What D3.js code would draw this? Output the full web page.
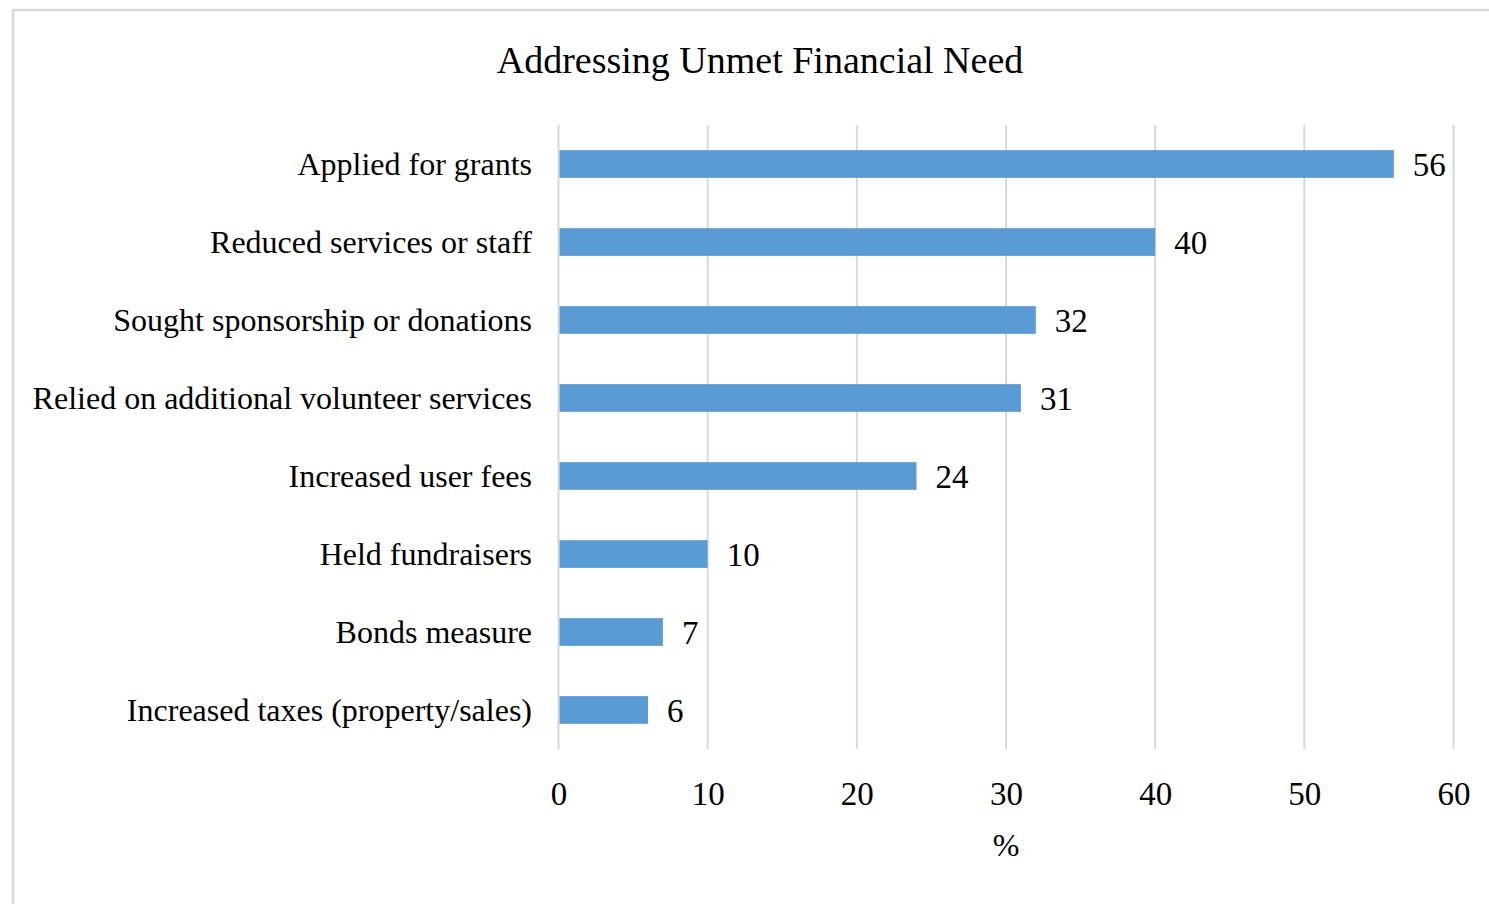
<!DOCTYPE html>
<html>
<head>
<meta charset="utf-8">
<script src="https://cdn.jsdelivr.net/npm/d3@7"></script>
<style>
  html, body { margin: 0; padding: 0; background: #fff; }
  svg { display: block; }
  text { font-family: "Liberation Serif", "Times New Roman", serif; fill: #000; }
</style>
</head>
<body>
<svg id="chart" width="1489" height="904"></svg>
<script>
// Survey responses: ways agencies addressed unmet financial need (% of respondents)
const categories = [
  "Applied for grants",
  "Reduced services or staff",
  "Sought sponsorship or donations",
  "Relied on additional volunteer services",
  "Increased user fees",
  "Held fundraisers",
  "Bonds measure",
  "Increased taxes (property/sales)"
];
const values = [56, 40, 32, 31, 24, 10, 7, 6];
const xTicks = [0, 10, 20, 30, 40, 50, 60];
const titleText = "Addressing Unmet Financial Need";
const xAxisTitle = "%";

const svg = d3.select("#chart");

// outer chart frame
svg.append("rect")
  .attr("x", 13).attr("y", 10)
  .attr("width", 1500).attr("height", 920)
  .attr("fill", "#fff")
  .attr("stroke", "#d9d9d9")
  .attr("stroke-width", 2.5);

const plot = { left: 558.5, right: 1453.5, top: 125, bottom: 749 };

const x = d3.scaleLinear().domain([0, 60]).range([plot.left, plot.right]);
const y = d3.scaleBand()
  .domain(categories)
  .range([plot.top, plot.bottom])
  .paddingInner(0.645)
  .paddingOuter(0.3225);

// title
svg.append("text")
  .attr("x", 760).attr("y", 73)
  .attr("text-anchor", "middle")
  .style("font-size", "38px")
  .text(titleText);

// vertical gridlines
svg.append("g")
  .selectAll("line")
  .data(xTicks)
  .join("line")
  .attr("x1", d => x(d)).attr("x2", d => x(d))
  .attr("y1", plot.top).attr("y2", plot.bottom)
  .attr("stroke", "#d9d9d9")
  .attr("stroke-width", 2);

// bars
svg.append("g")
  .selectAll("rect")
  .data(values)
  .join("rect")
  .attr("x", x(0) + 1)
  .attr("y", (d, i) => y(categories[i]))
  .attr("width", d => x(d) - x(0) - 1)
  .attr("height", y.bandwidth())
  .attr("fill", "#5b9bd5");

// value labels
svg.append("g")
  .selectAll("text")
  .data(values)
  .join("text")
  .attr("x", d => x(d) + 19)
  .attr("y", (d, i) => y(categories[i]) + y.bandwidth() / 2 + 12)
  .style("font-size", "33px")
  .text(d => d);

// category axis labels
const yAxis = d3.axisLeft(y).tickSize(0).tickPadding(0);
const gy = svg.append("g")
  .attr("transform", `translate(${532},0)`)
  .call(yAxis);
gy.select(".domain").remove();
gy.selectAll(".tick text")
  .attr("x", 0)
  .attr("dy", null)
  .attr("y", 10.5)
  .attr("fill", "#000")
  .style("font-family", "'Liberation Serif', 'Times New Roman', serif")
  .style("font-size", "32px");

// x axis tick labels
const xAxis = d3.axisBottom(x).tickValues(xTicks).tickSize(0).tickPadding(0);
const gx = svg.append("g")
  .attr("transform", `translate(0,${805})`)
  .call(xAxis);
gx.select(".domain").remove();
gx.selectAll(".tick text")
  .attr("y", 0)
  .attr("dy", null)
  .attr("fill", "#000")
  .style("font-family", "'Liberation Serif', 'Times New Roman', serif")
  .style("font-size", "33px");

// x axis title
svg.append("text")
  .attr("x", x(30)).attr("y", 856)
  .attr("text-anchor", "middle")
  .style("font-size", "32px")
  .text(xAxisTitle);
</script>
</body>
</html>
